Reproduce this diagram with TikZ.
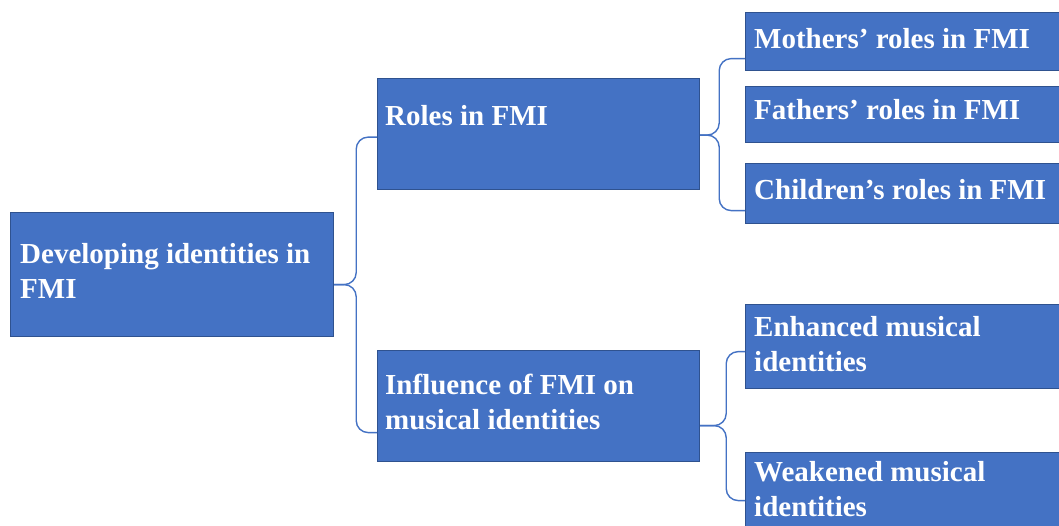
\documentclass[tikz,border=0pt]{standalone}
\usepackage{fontspec}
\setmainfont{Liberation Serif}
\usetikzlibrary{calc}
\definecolor{boxfill}{HTML}{4472C4}
\definecolor{boxline}{HTML}{2F528F}
\definecolor{linkblue}{HTML}{4472C4}
\begin{document}
\begin{tikzpicture}[x=1pt,y=1pt,
  box/.style={draw=boxline, line width=1.2pt, fill=boxfill, rectangle,
    inner sep=0pt, anchor=north west},
  lbl/.style={text=white, font=\fontsize{29}{35}\selectfont\bfseries,
    align=left, inner sep=0pt, anchor=base west},
  link/.style={draw=linkblue, line width=1.4pt, rounded corners=12pt}]
\useasboundingbox (0,0) rectangle (1059,526);
\fill[white] (0,0) rectangle (1059,526);

% boxes (y measured from the top edge)
\node[box, minimum width=323pt, minimum height=124pt] (root) at (10,526-212) {};
\node[box, minimum width=322pt, minimum height=111pt] (roles) at (377,526-78) {};
\node[box, minimum width=322pt, minimum height=111pt] (infl) at (377,526-350) {};
\node[box, minimum width=330pt, minimum height=58pt] (moth) at (745,526-12) {};
\node[box, minimum width=330pt, minimum height=56pt] (fath) at (745,526-86) {};
\node[box, minimum width=330pt, minimum height=60pt] (chil) at (745,526-163) {};
\node[box, minimum width=330pt, minimum height=84pt] (enh) at (745,526-304) {};
\node[box, minimum width=330pt, minimum height=96pt] (weak) at (745,526-452) {};

% labels (multi-line labels are placed by the baseline of their last line)
\node[lbl] (troot) at (20,526-299) {Developing identities in\\FMI};
\node[lbl] (troles) at (385,526-126) {Roles in FMI};
\node[lbl] (tinfl) at (385,526-430) {Influence of FMI on\\musical identities};
\node[lbl] (tmoth) at (754,526-49) {Mothers’ roles in FMI};
\node[lbl] (tfath) at (754,526-120) {Fathers’ roles in FMI};
\node[lbl] (tchil) at (754,526-200) {Children’s roles in FMI};
\node[lbl] (tenh) at (754,526-372) {Enhanced musical\\identities};
\node[lbl] (tweak) at (754,526-517) {Weakened musical\\identities};

% bracket connectors
\coordinate (rt) at ([yshift=-10pt]root.east);
\draw[link] (rt) -- ++(22,0) |- ([yshift=-3pt]roles.west);
\draw[link] (rt) -- ++(22,0) |- ([yshift=-26.5pt]infl.west);

\coordinate (ot) at ([yshift=-1pt]roles.east);
\draw[link] (ot) -- ++(19,0) |- ([yshift=-17pt]moth.west);
\draw[link] (ot) -- ++(19,0) |- ([yshift=-17pt]chil.west);

\coordinate (it) at ([yshift=-19.5pt]infl.east);
\draw[link] (it) -- ++(26,0) |- ([yshift=-5pt]enh.west);
\draw[link] (it) -- ++(26,0) |- (weak.west);
\end{tikzpicture}
\end{document}
